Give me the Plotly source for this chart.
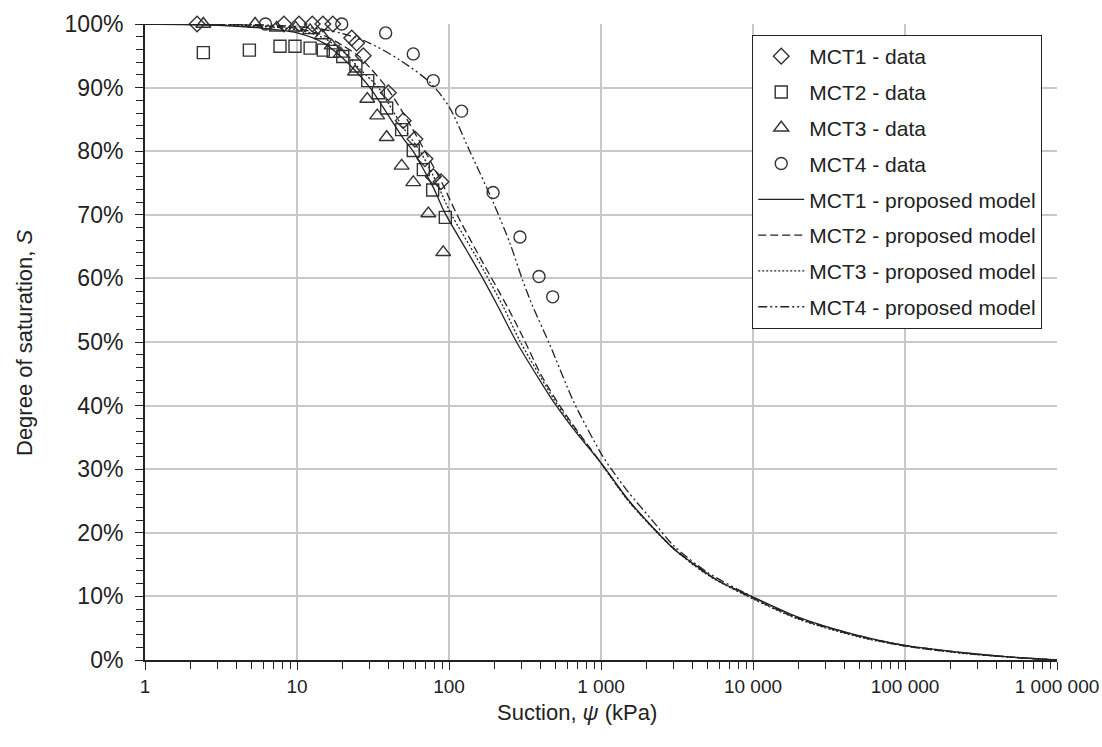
import plotly.graph_objects as go

# ---------------- data ----------------
mct1_data_psi = [2.2, 8.2, 10.3, 12.6, 14.8, 17.2, 22.9, 24.7, 27.3, 39.9, 50, 59.7, 69.5, 78.8, 88.6]
mct1_data_s = [100, 100, 100, 100, 100, 100, 97.8, 97.0, 95.0, 89.2, 84.8, 81.9, 78.8, 76.0, 75.2]

mct2_data_psi = [2.42, 4.86, 7.73, 9.7, 12.2, 14.9, 17.3, 20, 24.4, 29.2, 34.3, 38.9, 48.8, 58.2, 67.8, 78.1, 94.6]
mct2_data_s = [95.5, 95.9, 96.5, 96.5, 96.2, 95.9, 95.7, 94.9, 93.4, 91.1, 89.2, 86.8, 83.4, 80.1, 77.1, 73.9, 69.6]

mct3_data_psi = [2.42, 5.3, 7.35, 9.8, 12.2, 14.6, 16.9, 19.4, 24.1, 29.0, 33.7, 38.9, 48.8, 58.2, 73.1, 91.6]
mct3_data_s = [100, 100, 99.4, 99.4, 99.0, 98.2, 96.6, 95.3, 92.5, 88.2, 85.6, 82.2, 77.7, 75.1, 70.2, 64.1]

mct4_data_psi = [6.2, 19.7, 38.3, 58.2, 78.8, 121, 195, 293, 391, 481]
mct4_data_s = [100, 100, 98.6, 95.3, 91.1, 86.3, 73.5, 66.5, 60.3, 57.1]

mct1_model_psi = [1, 3, 5, 10, 15, 19.2, 25, 30.2, 40, 50, 58, 70, 80, 93, 130, 167, 211, 278, 400, 497,
                  700, 1000, 1500, 2200, 3000, 4480, 6030, 10000, 20000, 43500, 100000, 255000, 500000, 1000000]
mct1_model_s = [100, 99.8, 99.5, 98.6, 97.0, 95.0, 92.3, 90.0, 85.6, 82.0, 80.0, 76.6, 74.0, 70.5, 64.5, 60.0,
                55.5, 50.0, 43.8, 40.3, 35.5, 31.0, 25.3, 20.8, 17.5, 14.4, 12.3, 9.9, 6.7, 4.2, 2.3, 1.1, 0.45, 0]

mct2_model_psi = [1, 5, 10, 15, 20, 25.3, 30, 38.9, 50, 69.5, 90, 113, 150, 245, 310, 400, 535, 700,
                  1000, 1500, 2200, 3000, 5000, 10000, 20000, 50000, 100000, 250000, 500000, 1000000]
mct2_model_s = [100, 99.8, 99.3, 98.2, 96.6, 95.0, 93.2, 90.0, 86.0, 80.0, 75.0, 70.0, 64.5, 55.3, 50.5, 45.0,
                40.0, 36.0, 31.0, 25.2, 20.8, 17.6, 13.5, 9.7, 6.5, 3.7, 2.2, 1.05, 0.45, 0]

mct3_model_psi = [1, 5, 10, 15, 21.7, 25, 34.3, 40, 50, 64.5, 80, 104, 150, 228, 292, 400, 522, 700,
                  1000, 1500, 2200, 3000, 5000, 10000, 20000, 50000, 100000, 250000, 500000, 1000000]
mct3_model_s = [100, 99.7, 99.1, 97.8, 95.0, 93.3, 90.0, 87.5, 83.7, 80.0, 75.8, 70.0, 63.5, 55.5, 50.2, 44.5,
                40.0, 35.8, 30.9, 25.1, 20.7, 17.5, 13.4, 9.6, 6.4, 3.6, 2.2, 1.0, 0.45, 0]

mct4_model_psi = [1, 5, 10, 15, 20, 30, 47, 75, 100, 137, 195, 252, 302, 350, 462, 664, 1000, 1170, 1500,
                  2200, 3000, 5000, 10000, 20000, 50000, 100000, 250000, 500000, 1000000]
mct4_model_s = [100, 99.9, 99.6, 99.1, 98.5, 97.0, 94.4, 90.8, 87.0, 80.0, 72.0, 65.5, 60.0, 56.0, 49.5, 40.5,
                32.5, 30.0, 26.5, 21.8, 18.0, 13.8, 9.9, 6.6, 3.8, 2.3, 1.1, 0.45, 0]

x_tick_vals = [1, 10, 100, 1000, 10000, 100000, 1000000]
x_tick_text = ["1", "10", "100", "1 000", "10 000", "100 000", "1 000 000"]
y_tick_vals = [0, 10, 20, 30, 40, 50, 60, 70, 80, 90, 100]
y_tick_text = ["0%", "10%", "20%", "30%", "40%", "50%", "60%", "70%", "80%", "90%", "100%"]

x_title = "Suction, <i>ψ</i> (kPa)"
y_title = "Degree of saturation, <i>S</i>"

# ---------------- figure ----------------
INK = "#222222"
MARKER_LINE = "#333333"
FONT = "Liberation Sans, Arial, sans-serif"

fig = go.Figure()

data_series = [
    ("MCT1 - data", mct1_data_psi, mct1_data_s, "diamond-open", 12),
    ("MCT2 - data", mct2_data_psi, mct2_data_s, "square-open", 12),
    ("MCT3 - data", mct3_data_psi, mct3_data_s, "triangle-up-open", 13),
    ("MCT4 - data", mct4_data_psi, mct4_data_s, "circle-open", 12),
]
for i, (name, xs, ys, sym, size) in enumerate(data_series):
    fig.add_trace(go.Scatter(
        x=xs, y=ys, mode="markers", name=name, legendgroup=f"g{i}",
        marker=dict(symbol=sym, size=size, color=MARKER_LINE, line=dict(width=1.4, color=MARKER_LINE)),
        cliponaxis=False,
    ))

model_series = [
    ("MCT1 - proposed model", mct1_model_psi, mct1_model_s, "solid"),
    ("MCT2 - proposed model", mct2_model_psi, mct2_model_s, "8px,4px"),
    ("MCT3 - proposed model", mct3_model_psi, mct3_model_s, "2px,2px"),
    ("MCT4 - proposed model", mct4_model_psi, mct4_model_s, "9px,3px,2px,3px,2px,3px"),
]
for i, (name, xs, ys, dash) in enumerate(model_series):
    fig.add_trace(go.Scatter(
        x=xs, y=ys, mode="lines", name=name, legendgroup=f"m{i}",
        line=dict(color=INK, width=1.3, dash=dash, shape="spline", smoothing=0.8),
    ))

fig.update_layout(
    width=1102, height=747,
    margin=dict(l=145, r=45, t=24, b=87, autoexpand=False),
    plot_bgcolor="white", paper_bgcolor="white",
    font=dict(family=FONT, size=21, color="#222222"),
    showlegend=True,
    legend=dict(
        x=0.6656, y=0.983, xanchor="left", yanchor="top",
        bgcolor="white", bordercolor="#222222", borderwidth=1.2,
        font=dict(family=FONT, size=21, color="#222222"),
        itemwidth=46, tracegroupgap=5.5,
    ),
    annotations=[
        dict(text=x_title, xref="paper", yref="paper", x=(577 - 145) / 912, y=-(712 - 659.5) / 635,
             xanchor="center", yanchor="middle", showarrow=False,
             font=dict(family=FONT, size=22, color="#222222")),
        dict(text=y_title, xref="paper", yref="paper", x=-(145 - 24) / 912, y=(659.5 - 343) / 635,
             xanchor="center", yanchor="middle", textangle=-90, showarrow=False,
             font=dict(family=FONT, size=22, color="#222222")),
    ],
)

fig.update_xaxes(
    type="log", range=[0, 6], automargin=False,
    tickmode="array", tickvals=x_tick_vals, ticktext=x_tick_text,
    tickfont=dict(family=FONT, size=19, color="#222222"),
    ticklabeloverflow="allow",
    ticks="outside", ticklen=8, tickwidth=1.2, tickcolor="#222222",
    minor=dict(dtick="D1", ticks="outside", ticklen=7, tickwidth=1, tickcolor="#222222", showgrid=False),
    showgrid=True, gridcolor="#c8c8c8", gridwidth=1.5,
    showline=True, linecolor="#222222", linewidth=2,
    zeroline=False,
)

fig.update_yaxes(
    range=[0, 100], automargin=False,
    tickmode="array", tickvals=y_tick_vals, ticktext=y_tick_text,
    tickfont=dict(family=FONT, size=23, color="#222222"),
    ticklabelstandoff=7,
    ticks="outside", ticklen=8, tickwidth=1.2, tickcolor="#222222",
    minor=dict(dtick=2, ticks="outside", ticklen=7, tickwidth=1, tickcolor="#222222", showgrid=False),
    showgrid=True, gridcolor="#c8c8c8", gridwidth=1.5,
    showline=True, linecolor="#222222", linewidth=2,
    zeroline=False,
)

fig.write_html("out.html")
